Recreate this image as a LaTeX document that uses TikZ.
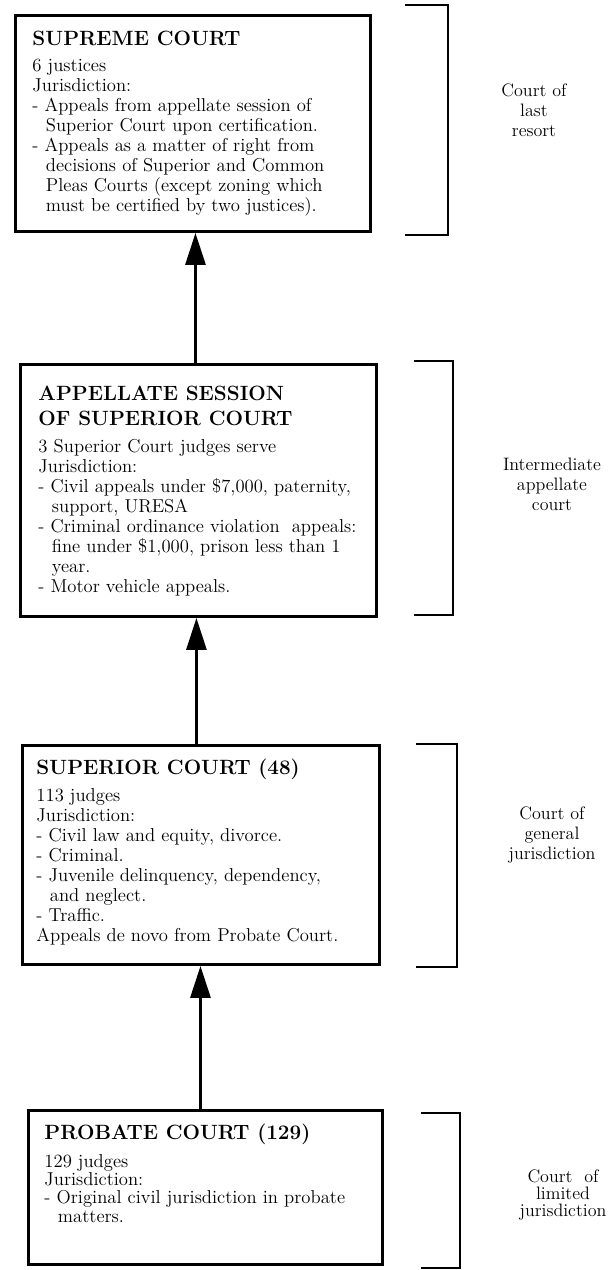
\documentclass[tikz,border=0pt]{standalone}
\usepackage{tikz}
\usetikzlibrary{calc}
\usetikzlibrary{positioning}
\usetikzlibrary{arrows.meta}
\newcommand{\ttl}{\fontsize{15.5}{18.75}\selectfont\bfseries}
\newcommand{\indt}{\hspace*{0.72em}}

\begin{document}
\begin{tikzpicture}[x=0.75pt,y=-0.75pt,line width=2.2pt,
    >={Triangle[length=24pt,width=15pt]},
    court/.style 2 args={draw,anchor=north west,inner sep=0pt,
      minimum width=#1*0.75pt,minimum height=#2*0.75pt},
    info/.style={anchor=base west,align=left,inner sep=0pt,
      font=\fontsize{14}{15}\selectfont},
    level/.style={anchor=base,align=center,inner sep=0pt,
      font=\fontsize{13.5}{15}\selectfont}]
    \useasboundingbox (0,0) rectangle (608,1270);

    \node[court={355}{216}] (sup) at (14,14) {};
    \node[court={356}{252}] (app) at (19,363) {};
    \node[court={357}{219}] (supr) at (21,744) {};
    \node[court={354}{154}] (prob) at (27,1109) {};

    \node[info] (suptxt) at (31,211) {{\ttl SUPREME COURT}\\[4.5pt]
      6 justices\\
      Jurisdiction:\\
      - Appeals from appellate session of\\
      \indt Superior Court upon certification.\\
      - Appeals as a matter of right from\\
      \indt decisions of Superior and Common\\
      \indt Pleas Courts (except zoning which\\
      \indt must be certified by two justices).};
    \node[info] (apptxt) at (37,592) {{\ttl APPELLATE SESSION}\\[3.75pt]
      {\ttl OF SUPERIOR COURT}\\[5pt]
      3 Superior Court judges serve\\
      Jurisdiction:\\
      - Civil appeals under \$7,000, paternity,\\
      \indt support, URESA\\
      - Criminal ordinance violation\ \ appeals:\\
      \indt fine under \$1,000, prison less than 1\\
      \indt year.\\
      - Motor vehicle appeals.};
    \node[info] (suprtxt) at (35,941) {{\ttl SUPERIOR COURT (48)}\\[5pt]
      113 judges\\
      Jurisdiction:\\
      - Civil law and equity, divorce.\\
      - Criminal.\\
      - Juvenile delinquency, dependency,\\
      \indt and neglect.\\
      - Traffic.\\
      Appeals de novo from Probate Court.};
    \node[info,font=\fontsize{14}{13.7}\selectfont] (probtxt) at (43,1222)
      {{\ttl PROBATE COURT (129)}\\[7pt]
      129 judges\\
      Jurisdiction:\\
      - Original civil jurisdiction in probate\\
      \indt matters.};

    \draw[->] ([xshift=-2.25pt]app.north) -- ([xshift=-2.25pt]app.north |- sup.south);
    \draw[->] ([xshift=-3.4pt]supr.north) -- ([xshift=-3.4pt]supr.north |- app.south);
    \draw[->] ([xshift=-3.75pt]prob.north) -- ([xshift=-3.75pt]prob.north |- supr.south);

    \foreach \xa/\xb/\ya/\yb in {405/448/5/235,414/453/361/615,
        416/457/744/967,421/460/1113/1268}
      \draw (\xa,\ya) -- (\xb,\ya) -- (\xb,\yb) -- (\xa,\yb);

    \node[level] (lastres) at (534,136) {Court of\\last\\resort};
    \node[level] (interm) at (552,510) {Intermediate\\appellate\\court};
    \node[level] (general) at (552,859) {Court of\\general\\jurisdiction};
    \node[level,font=\fontsize{13.5}{12.5}\selectfont] (limited) at (563,1216)
      {Court\ \ of\\limited\\jurisdiction};
  \end{tikzpicture}
\end{document}
